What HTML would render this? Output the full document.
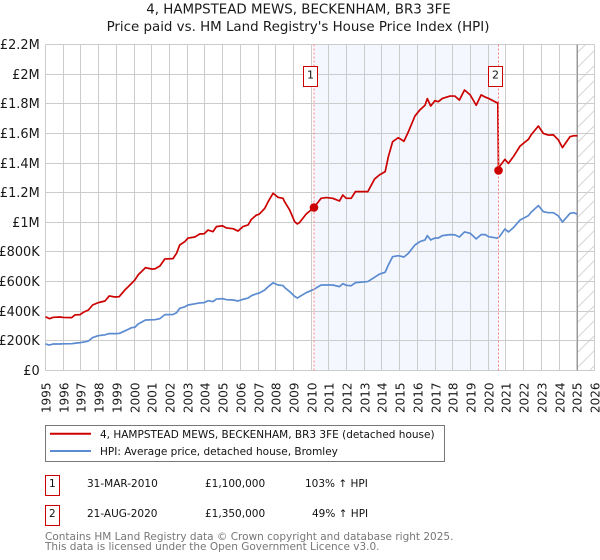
<!DOCTYPE html>
<html>
<head>
<meta charset="utf-8">
<title>4, Hampstead Mews price chart</title>
<style>
html,body{margin:0;padding:0;background:#fff;}
svg{display:block;font-family:"DejaVu Sans",sans-serif;}
</style>
</head>
<body>
<svg id="chart" xmlns="http://www.w3.org/2000/svg" width="600" height="560" viewBox="0 0 600 560">
<defs>
<pattern id="hatch" patternUnits="userSpaceOnUse" width="15" height="15">
<path d="M-2 17L17 -2M-2 2L2 -2M13 17L17 13" stroke="#d6d6d6" stroke-width="1" fill="none"/>
</pattern>
</defs>
<g id="plot-bg"></g>
<g id="grid"></g>
<g id="series"></g>
<g id="axes"></g>
<g id="markers"></g>
<text x="298.5" y="13.5" text-anchor="middle" font-size="13.4" fill="#1a1a1a">4, HAMPSTEAD MEWS, BECKENHAM, BR3 3FE</text>
<text x="298" y="31" text-anchor="middle" font-size="13.4" fill="#1a1a1a">Price paid vs. HM Land Registry's House Price Index (HPI)</text>
<g>
<rect x="45.5" y="425.5" width="399" height="36" fill="#fff" stroke="#777"/>
<line x1="50" x2="91" y1="433.7" y2="433.7" stroke="#cc0000" stroke-width="2"/>
<line x1="50" x2="91" y1="451" y2="451" stroke="#5b8bd0" stroke-width="2"/>
<text x="100" y="438" font-size="10.5" fill="#111">4, HAMPSTEAD MEWS, BECKENHAM, BR3 3FE (detached house)</text>
<text x="100" y="455" font-size="10.5" fill="#111">HPI: Average price, detached house, Bromley</text>
</g>
<g font-size="10.5" fill="#111">
<g>
<rect x="45.5" y="475.5" width="14" height="20" fill="#fff" stroke="#cc0000"/>
<text x="52.3" y="487" text-anchor="middle">1</text>
<text x="87" y="487">31-MAR-2010</text>
<text x="205" y="487">£1,100,000</text>
<text x="305" y="487">103% ↑ HPI</text>
</g>
<g>
<rect x="45.5" y="505.5" width="14" height="20" fill="#fff" stroke="#cc0000"/>
<text x="52.3" y="517" text-anchor="middle">2</text>
<text x="87" y="517">21-AUG-2020</text>
<text x="205" y="517">£1,350,000</text>
<text x="312" y="517">49% ↑ HPI</text>
</g>
</g>
<text x="45" y="540" font-size="10.5" fill="#777">Contains HM Land Registry data © Crown copyright and database right 2025.</text>
<text x="45" y="550" font-size="10.5" fill="#777">This data is licensed under the Open Government Licence v3.0.</text>
</svg>
<script>
const dates = [1995,1995.22,1995.44,1995.82,1996,1996.48,1996.66,1996.95,1997.13,1997.42,1997.66,1997.98,1998.36,1998.6,1998.92,1999.16,1999.48,1999.86,2000.05,2000.23,2000.65,2000.99,2001.18,2001.46,2001.74,2002.2,2002.4,2002.58,2002.87,2003.05,2003.43,2003.71,2003.96,2004.18,2004.46,2004.65,2004.99,2005.22,2005.59,2005.87,2006.15,2006.44,2006.63,2006.91,2007.06,2007.38,2007.57,2007.85,2008.13,2008.41,2008.5,2008.79,2009.07,2009.22,2009.34,2009.72,2010.16,2010.56,2010.85,2011.22,2011.6,2011.79,2011.98,2012.26,2012.5,2013.2,2013.58,2013.86,2014.18,2014.36,2014.6,2014.92,2015.24,2015.49,2015.86,2016.15,2016.43,2016.56,2016.75,2016.99,2017.18,2017.41,2017.84,2018.12,2018.37,2018.66,2018.98,2019.32,2019.6,2019.83,2020.02,2020.49,2020.54,2020.58,2020.66,2020.94,2021.14,2021.42,2021.8,2022.27,2022.42,2022.83,2023.11,2023.39,2023.68,2023.96,2024.19,2024.62,2024.81,2025.03];
const pricePaid = [363,350,359,361,358,357,375,377,392,408,442,458,469,503,496,498,543,588,611,645,694,685,686,705,753,755,791,847,870,894,901,921,923,948,937,971,977,962,957,941,971,982,1020,1049,1054,1094,1139,1196,1169,1162,1139,1083,1004,989,998,1056,1100,1162,1167,1162,1144,1184,1162,1162,1207,1207,1292,1320,1342,1443,1544,1571,1547,1611,1717,1760,1790,1835,1785,1821,1814,1836,1852,1852,1825,1893,1860,1790,1860,1845,1836,1807,1807,1350,1380,1425,1398,1443,1515,1560,1590,1650,1600,1589,1590,1556,1504,1578,1584,1584];
const hpi = [179,172,179,179,180,181,184,188,191,199,222,235,241,249,249,250,267,289,292,314,341,342,343,350,377,378,390,420,430,442,450,456,458,471,465,482,485,478,476,469,480,489,505,518,522,543,565,592,577,573,560,532,500,489,498,525,548,577,577,577,566,586,575,572,593,600,629,651,663,712,768,775,766,791,847,870,881,910,881,894,894,910,917,915,901,935,926,888,917,917,903,894,895,897,908,955,935,964,1016,1045,1068,1113,1072,1065,1065,1043,1002,1061,1065,1056];
const yearTicks = [1995,1996,1997,1998,1999,2000,2001,2002,2003,2004,2005,2006,2007,2008,2009,2010,2011,2012,2013,2014,2015,2016,2017,2018,2019,2020,2021,2022,2023,2024,2025,2026];
const valueTicks = [0,200,400,600,800,1000,1200,1400,1600,1800,2000,2200];
const valueLabels = ["£0","£200K","£400K","£600K","£800K","£1M","£1.2M","£1.4M","£1.6M","£1.8M","£2M","£2.2M"];
const saleDates = [2010.16,2020.58];
const saleValues = [1100,1350];
const saleLabels = ["1","2"];
const dataEnd = 2025.03;

const NS = "http://www.w3.org/2000/svg";
const X0 = 45.5, X1 = 594.5, Y0 = 370.5, Y1 = 44.5;
function xScale(y){ return X0 + (y - 1995) / 31 * (X1 - X0); }
function yScale(v){ return Y0 - v / 2200 * (Y0 - Y1); }
function snap(p){ return Math.floor(p) + 0.5; }
function make(tag, attrs, parent){
  const el = document.createElementNS(NS, tag);
  for (const k in attrs) el.setAttribute(k, attrs[k]);
  parent.appendChild(el);
  return el;
}
const bg = document.getElementById("plot-bg");
const grid = document.getElementById("grid");
const series = document.getElementById("series");
const axes = document.getElementById("axes");
const markers = document.getElementById("markers");

const band = make("rect", {x: xScale(saleDates[0]), y: Y1, width: xScale(saleDates[1]) - xScale(saleDates[0]), height: Y0 - Y1, fill: "#f4f7fe"}, bg);


const hatch = make("rect", {x: xScale(dataEnd), y: Y1, width: X1 - xScale(dataEnd), height: Y0 - Y1, fill: "url(#hatch)"}, bg);



yearTicks.forEach(function(y){
  const px = snap(xScale(y));
  const gl = make("line", {x1: px, x2: px, y1: Y1, y2: Y0, stroke: "#cccccc", "stroke-width": 1}, grid);
  
  
  const t = make("text", {transform: "translate(" + (px + 5) + ",413) rotate(-90)", "font-size": 12, fill: "#1a1a1a"}, axes);
  
  
  t.textContent = y;
});
valueTicks.forEach(function(v, i){
  const py = snap(yScale(v));
  const gl = make("line", {x1: X0, x2: X1, y1: py, y2: py, stroke: "#cccccc", "stroke-width": 1}, grid);
  
  
  const t = make("text", {x: 39.7, y: py + 4.5, "text-anchor": "end", "font-size": 12.9, fill: "#1a1a1a"}, axes);
  
  
  t.textContent = valueLabels[i];
});

const endX = snap(xScale(dataEnd));
const endLine = make("line", {x1: endX, x2: endX, y1: Y1, y2: Y0, stroke: "#999999", "stroke-width": 1}, grid);



function pathFor(values){
  return values.map(function(v, i){ return (i ? "L" : "M") + xScale(dates[i]).toFixed(2) + " " + yScale(v).toFixed(2); }).join("");
}
const hpiLine = make("path", {d: pathFor(hpi), fill: "none", stroke: "#5b8bd0", "stroke-width": 1.7, "stroke-linejoin": "round"}, series);


const paidLine = make("path", {d: pathFor(pricePaid), fill: "none", stroke: "#cc0000", "stroke-width": 1.7, "stroke-linejoin": "round"}, series);



saleDates.forEach(function(d, i){
  const px = xScale(d);
  const vl = make("line", {x1: px, x2: px, y1: Y1, y2: Y0, stroke: "#ff8080", "stroke-width": 1, "stroke-dasharray": "2 2"}, markers);
  
  
  const dot = make("circle", {cx: px, cy: yScale(saleValues[i]), r: 4.3, fill: "#cc0000"}, markers);
  
  
  const box = make("rect", {x: Math.floor(px) - 9.5, y: 66.5, width: 14, height: 20, fill: "#fff", stroke: "#cc0000"}, markers);
  
  
  const lab = make("text", {x: Math.floor(px) - 2.5, y: 78.5, "text-anchor": "middle", "font-size": 11, fill: "#111"}, markers);
  
  
  lab.textContent = saleLabels[i];
});
</script>
</body>
</html>
